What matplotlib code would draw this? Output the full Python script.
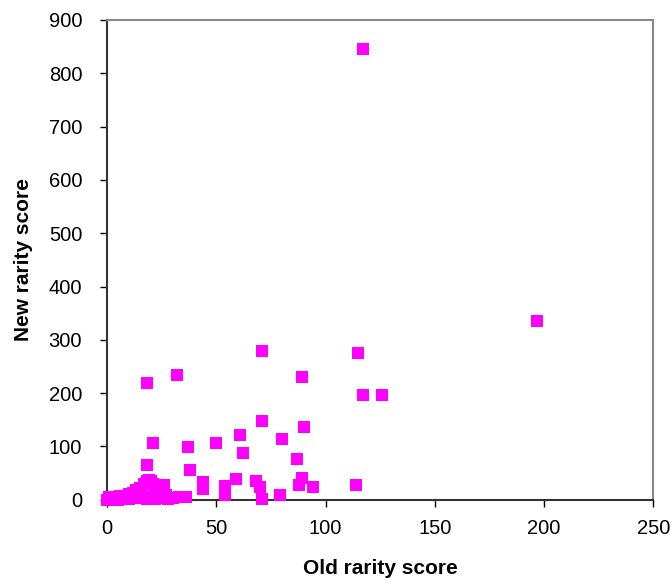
import matplotlib
matplotlib.use("Agg")
import matplotlib.pyplot as plt

plt.rcParams['font.family'] = ['Liberation Sans', 'DejaVu Sans']

### old vs new rarity scores, one point per item
old_score = [117, 197, 115, 89, 117, 126, 90, 87, 89, 88, 94, 114,
             71, 32, 18, 71, 50, 61, 62, 80, 44, 44, 54, 54, 59, 68, 70, 71, 79,
             21, 37, 18, 38, 19, 26, 27, 33, 36, 26,
             0, 1, 2, 3, 4, 5, 6, 7, 8, 9, 10, 11, 12, 13, 14, 15, 16, 17, 18,
             19, 20, 21, 22, 20, 23, 24, 25, 26, 27, 28, 30, 15, 18, 22, 10, 5, 3, 1]
new_score = [845, 335, 275, 230, 196, 196, 136, 76, 40, 28, 24, 27,
             280, 234, 220, 147, 106, 121, 88, 114, 34, 21, 26, 9, 39, 35, 24, 1, 9,
             106, 99, 66, 56, 37, 28, 9, 6, 6, 25,
             0, 2, 1, 4, 6, 3, 8, 2, 5, 7, 10, 4, 12, 18, 8, 23, 15, 30, 35,
             33, 36, 30, 25, 5, 10, 3, 20, 12, 8, 2, 4, 3, 1, 1, 1, 0, 1, 5]

x_ticks = [0, 50, 100, 150, 200, 250]
y_ticks = [0, 100, 200, 300, 400, 500, 600, 700, 800, 900]

fig = plt.figure(figsize=(6.7, 5.88), dpi=100)
ax = fig.add_axes([0.160, 0.150, 0.815, 0.816])

ax.plot(old_score, new_score, linestyle='none', marker='s', markersize=8.6,
        markeredgewidth=0, color='#FF00FF', clip_on=False, zorder=3)

ax.set_xlim(0, 250)
ax.set_ylim(0, 900)
ax.set_xticks(x_ticks)
ax.set_yticks(y_ticks)
ax.tick_params(direction='out', length=5, width=1, labelsize=14.5, colors='black')
ax.tick_params(axis='x', pad=9)
ax.tick_params(axis='y', pad=13)

for side in ['left', 'bottom']:
    ax.spines[side].set_color('#333333')
    ax.spines[side].set_linewidth(1.5)
for side in ['top', 'right']:
    ax.spines[side].set_color('#888888')
    ax.spines[side].set_linewidth(1.5)

ax.set_xlabel('Old rarity score', fontsize=15, fontweight='bold', labelpad=15)
ax.set_ylabel('New rarity score', fontsize=15, fontweight='bold', labelpad=11)

fig.savefig('out.png', dpi=100)
